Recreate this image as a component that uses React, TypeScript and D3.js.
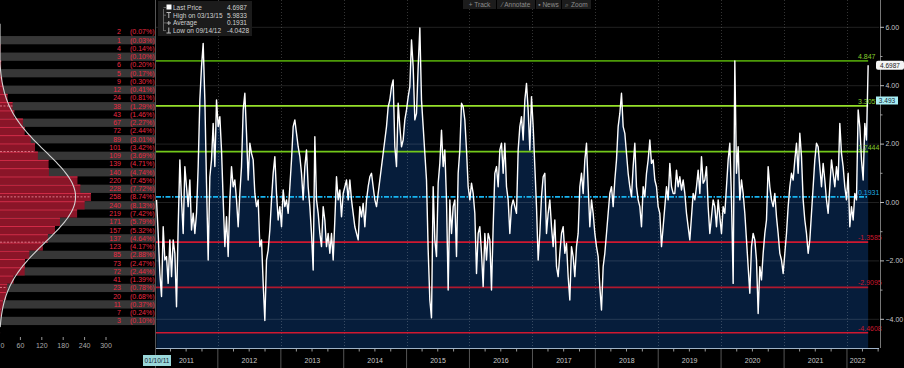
import { useEffect, useRef } from 'react';
import * as d3 from 'd3';

// distribution panel (left): observations per bucket, top bucket first
const histCounts = [
  2, 1, 4, 3, 6, 5, 9, 12, 24, 38, 43, 67, 72, 89, 101, 109, 139, 140,
  220, 228, 258, 240, 219, 171, 157, 137, 123, 85, 73, 72, 41, 23, 20, 11, 7, 3
];
const histTicks = [0, 60, 120, 180, 240, 300];

// mean and +/- 1,2,3 sigma bands
const statLevels = [4.847, 3.3057, 1.7444, 0.1931, -1.3585, -2.9095, -4.4608];
const statLabels = ['4.847', '3.3057', '1.7444', '0.1931', '-1.3585', '-2.9095', '-4.4608'];
const statColors = ['#4c9a08', '#96e02a', '#72c81a', '#18b4f0', '#d01830', '#b0182e', '#d01830'];
const statTextColors = ['#86cc2c', '#86cc2c', '#86cc2c', '#1fa8e0', '#c8182e', '#c8182e', '#c8182e'];

const yTicks = [6, 4, 2, 0, -2, -4];
const yMinorTicks = [5, 3, 1, -1, -3];
const years = [2011, 2012, 2013, 2014, 2015, 2016, 2017, 2018, 2019, 2020, 2021, 2022];

const legendLabels = ['Last Price', 'High on 03/13/15', 'Average', 'Low on 09/14/12'];
const legendValues = ['4.6987', '5.9833', '0.1931', '-4.0428'];
const toolbarItems = ['+ Track', '\u2044 Annotate', '\u25aa News', '\u2315 Zoom'];

const lastPrice = 4.6987;
const markerValue = 3.493;
const startLabel = '01/10/11';

// observations, evenly spaced from first to last date
const seriesStart = '2011-01-10';
const seriesEnd = '2022-05-04';
const values2011to2013 = [
  0.09, -1.06, -2.43, -3.22, -0.83, -1.97, -1.85, -2.77, -1.28, -2.54,
  -1.28, -1.74, -3.57, -0.83, 1.46, 0.09, -1.06, 1.23, 0.54, -0.14,
  0.77, -0.94, -0.37, -1.06, -0.37, 1.23, 3.51, 4.65, 5.45, 3.51,
  0.66, -1.97, 0.88, 1.46, 2.71, 1.23, 3.51, 2.60, 2.94, 1.80,
  0.09, -1.51, -0.49, -1.85, 0.09, 1.23, 0.54, 0.77, 0.09, -0.83,
  0.31, 1.23, 3.17, 3.74, 2.37, 0.77, 2.03, 1.68, 1.46, 0.31,
  -0.14, 0.09, -1.51, -1.28, -2.77, -4.04, -1.97, -1.63, -0.94, 0.09,
  1.00, 1.57, 0.31, -0.60, -0.14, -0.83, 0.43, -0.14, 0.09, -0.37,
  0.54, 1.46, 2.60, 2.83, 2.37, 1.91, 1.57, 1.00, 0.09, 1.23,
  1.80, 0.54, -0.14, -1.06, -2.31, 2.25, 0.09, -0.37, -1.06, -1.51,
  -0.14, -0.60, -1.51, -1.06, -1.74, -1.06, -1.97, -0.60
];
const values2013to2016 = [
  0.88, 0.09, 0.43, -0.49, 0.31, 0.54, 0.77, 0.09, 0.77, 0.09,
  -0.37, -0.83, -1.06, -1.28, -0.14, -0.49, -0.03, -0.83, 0.09, 0.54,
  0.88, 1.00, 0.54, 0.09, -0.14, 0.31, 0.77, 1.23, 1.68, 2.14,
  2.60, 3.28, 3.51, 3.97, 4.20, 1.91, 1.23, 3.40, 2.60, 1.91,
  2.14, 2.83, 3.17, 3.62, 3.97, 5.57, 4.65, 2.83, 3.05, 4.65,
  5.98, 3.51, 2.60, 1.68, 0.77, -1.63, -3.34, -3.95, 0.54, -1.28,
  -1.85, 0.66, 1.34, 2.48, 1.23, 1.80, 0.09, -3.00, 0.09, -1.06,
  -0.14, 0.09, -1.85, 1.00, 1.80, 3.40, 3.28, 2.83, 1.80, 0.54,
  0.09, 0.66, 0.31, -0.37, -2.43, -1.06, -0.83, -1.74, -2.88, -1.06,
  -1.97, -1.06, -1.28, -3.00, -0.83, 1.00, 1.23, 0.54, 1.80, 2.03,
  1.00, 2.03, 0.54, 0.09, -1.06, -0.14, 0.09, -0.14
];
const values2016to2019 = [
  -0.37, 1.80, 2.60, 2.94, 2.14, 3.51, 4.08, 3.17, 1.80, 3.62,
  2.60, 1.23, -0.14, -1.97, -1.06, 0.20, 0.88, 1.00, -1.06, -0.37,
  0.09, -0.83, -1.51, -0.60, -2.20, -2.54, -1.74, -1.06, -0.83, -1.74,
  -1.40, -2.54, -3.34, -1.51, -1.85, -2.54, -1.51, -1.06, 0.54, 1.00,
  0.31, 1.46, 2.03, 0.54, -0.83, 0.09, -0.37, -1.06, -1.51, -1.85,
  -2.88, -3.68, -2.20, -1.74, -1.06, -0.37, 0.31, 0.54, -0.14, 0.77,
  1.46, 2.60, 3.05, 3.74, 2.60, 2.37, 1.68, 1.00, 0.54, 0.20,
  1.23, 2.03, 0.54, 0.09, -0.14, -0.83, 0.54, 0.20, 1.00, 1.46,
  2.14, 1.34, 1.46, 0.77, 0.54, -0.14, -0.37, -1.51, -0.83, -0.14,
  0.54, 0.09, 1.34, 0.54, 0.31, 0.31, 1.11, 0.54, 0.88, 0.43,
  0.77, 0.31, -0.37, -0.83, -1.28, -0.49, 0.31, 0.09
];
const values2019to2022 = [
  0.54, 1.11, 0.31, 1.57, 0.66, 0.77, 1.23, -0.14, -1.06, -0.49,
  0.09, -0.14, -0.83, 0.09, -0.49, -1.06, -0.14, -0.37, 0.54, 1.46,
  2.03, 0.09, -2.77, 4.85, 1.00, 1.91, 0.09, 0.77, 0.31, -0.37,
  -1.28, -2.20, -3.11, -1.51, -1.06, -1.28, -1.97, -3.80, -2.20, -2.65,
  -1.74, -1.06, -0.60, 1.23, 0.54, 0.09, -0.14, 0.31, -0.49, -1.06,
  -1.74, -1.97, -2.43, -1.74, -1.06, -0.14, 0.54, 1.00, 0.77, 1.46,
  2.03, 1.00, 2.37, 1.57, 0.09, -0.60, -1.06, -1.74, -1.28, -0.37,
  0.54, 1.46, 2.03, 1.91, 1.23, 0.54, 1.34, 0.77, 0.09, -0.37,
  0.54, 1.46, 1.00, 0.54, 1.23, 0.77, 2.71, 1.68, 1.23, 0.54,
  0.09, 1.00, -0.83, -0.14, -0.60, 0.31, 0.09, 3.17, 2.60, 1.46,
  0.77, 2.71, 2.14, 4.70
];

const FONT = '"Liberation Sans Narrow", "Liberation Sans", Arial, sans-serif';

export default function App() {
  const svgRef = useRef<SVGSVGElement>(null);

  useEffect(() => {
    document.body.style.margin = '0';
    document.body.style.background = '#000';

    const width = 904;
    const height = 368;
    const plotLeft = 156;
    const plotRight = 879;
    const plotBottom = 348;

    const svg = d3.select(svgRef.current);
    svg.selectAll('*').remove();
    svg.attr('width', width).attr('height', height).style('display', 'block')
      .style('font-family', FONT);

    svg.append('rect').attr('width', width).attr('height', height).attr('fill', '#000');

    const yScale = d3.scaleLinear().domain([-4.983, 6.935]).range([plotBottom, 0]);
    const xScale = d3.scaleTime()
      .domain([new Date(2011, 0, 7), new Date(2022, 6, 6)])
      .range([plotLeft, plotRight]);

    const values = [...values2011to2013, ...values2013to2016, ...values2016to2019, ...values2019to2022];
    const t0 = new Date(seriesStart + 'T00:00:00').getTime();
    const t1 = new Date(seriesEnd + 'T00:00:00').getTime();
    const series = values.map((v, i) => ({
      date: new Date(t0 + (i * (t1 - t0)) / (values.length - 1)),
      value: v
    }));
    const lastX = xScale(series[series.length - 1].date);

    // ---------- histogram panel ----------
    const histTop = 5.9833;
    const binW = 0.2828;
    const xHist = d3.scaleLinear().domain([0, 300]).range([-1, 106]);
    const rowTop = (i: number) => yScale(histTop - i * binW);
    const total = d3.sum(histCounts);

    const hist = svg.append('g');
    histCounts.forEach((c, i) => {
      const y0 = rowTop(i);
      const y1 = rowTop(i + 1);
      if (i % 2 === 1) {
        hist.append('rect').attr('x', 0).attr('y', y0).attr('width', 155).attr('height', y1 - y0)
          .attr('fill', '#373737');
      }
      hist.append('rect').attr('x', 0).attr('y', y0).attr('width', Math.max(0, xHist(c)))
        .attr('height', y1 - y0).attr('fill', '#8a1528');
      hist.append('line').attr('x1', 0).attr('x2', Math.max(0, xHist(c)))
        .attr('y1', y0 + 0.5).attr('y2', y0 + 0.5)
        .attr('stroke', '#d42c48').attr('stroke-width', 1);
      const cy = (y0 + y1) / 2 + 2.4;
      hist.append('text').attr('x', 121).attr('y', cy).attr('text-anchor', 'end')
        .attr('font-size', 7).attr('fill', '#ea2a42').text(c);
      hist.append('text').attr('x', 130).attr('y', cy)
        .attr('font-size', 7).attr('fill', '#ea2a42')
        .text(`(${((c / total) * 100).toFixed(2)}%)`);
    });

    // dashed sigma marks inside bars
    statLevels.forEach((lv) => {
      const i = Math.floor((histTop - lv) / binW);
      const c = histCounts[Math.max(0, Math.min(histCounts.length - 1, i))];
      hist.append('line').attr('x1', 0).attr('x2', Math.max(0, xHist(c)))
        .attr('y1', yScale(lv)).attr('y2', yScale(lv))
        .attr('stroke', '#e58090').attr('stroke-width', 0.9).attr('stroke-dasharray', '2,1.5');
    });

    // fitted normal curve
    const mean = d3.sum(histCounts, (c, i) => c * i) / total;
    const sd = Math.sqrt(d3.sum(histCounts, (c, i) => c * (i - mean) ** 2) / total);
    const curvePts = d3.range(-0.5, histCounts.length + 0.5, 0.25).map((t) => {
      const cnt = (total / (sd * Math.sqrt(2 * Math.PI))) * Math.exp(-((t - 0.5 - mean) ** 2) / (2 * sd * sd));
      return [Math.max(0, xHist(cnt)), yScale(histTop - t * binW)] as [number, number];
    });
    hist.append('path').attr('d', d3.line().curve(d3.curveBasis)(curvePts))
      .attr('fill', 'none').attr('stroke', '#d4d4d4').attr('stroke-width', 1.1);

    histTicks.forEach((t) => {
      hist.append('line').attr('x1', xHist(t)).attr('x2', xHist(t)).attr('y1', 337).attr('y2', 340)
        .attr('stroke', '#999').attr('stroke-width', 1);
      hist.append('text').attr('x', Math.max(2.5, xHist(t))).attr('y', 348).attr('text-anchor', 'middle')
        .attr('font-size', 7).attr('fill', '#aaa').text(t);
    });

    svg.append('line').attr('x1', 155.5).attr('x2', 155.5).attr('y1', 0).attr('y2', height)
      .attr('stroke', '#555').attr('stroke-width', 1);

    // ---------- main plot ----------
    const plot = svg.append('g');

    const area = d3.area<{ date: Date; value: number }>()
      .x((d) => xScale(d.date)).y0(plotBottom).y1((d) => yScale(d.value));
    plot.append('path').attr('d', area(series)).attr('fill', '#061d3b');

    yTicks.forEach((t) => {
      plot.append('line').attr('x1', plotLeft).attr('x2', plotRight)
        .attr('y1', yScale(t)).attr('y2', yScale(t))
        .attr('stroke', '#fff').attr('stroke-opacity', 0.13).attr('stroke-width', 1);
    });
    years.slice(1).forEach((yr) => {
      const x = Math.round(xScale(new Date(yr, 0, 1))) + 0.5;
      plot.append('line').attr('x1', x).attr('x2', x).attr('y1', 0).attr('y2', plotBottom)
        .attr('stroke', '#fff').attr('stroke-opacity', 0.2).attr('stroke-dasharray', '1,2');
    });

    statLevels.forEach((lv, i) => {
      const y = yScale(lv);
      plot.append('line').attr('x1', plotLeft).attr('x2', lastX).attr('y1', y).attr('y2', y)
        .attr('stroke', statColors[i]).attr('stroke-width', 1.7)
        .attr('stroke-dasharray', i === 3 ? '5,1.5,1.5,1.5' : null);
    });

    const line = d3.line<{ date: Date; value: number }>()
      .x((d) => xScale(d.date)).y((d) => yScale(d.value));
    plot.append('path').attr('d', line(series)).attr('fill', 'none')
      .attr('stroke', '#fff').attr('stroke-width', 1.4).attr('stroke-linejoin', 'round');

    statLevels.forEach((lv, i) => {
      plot.append('text').attr('x', 858).attr('y', yScale(lv) - 2)
        .attr('font-size', 7).attr('fill', statTextColors[i])
        .text(statLabels[i]);
    });

    // right axis
    plot.append('line').attr('x1', 880.5).attr('x2', 880.5).attr('y1', 0).attr('y2', plotBottom)
      .attr('stroke', '#777');
    yTicks.forEach((t) => {
      plot.append('line').attr('x1', 880).attr('x2', 884).attr('y1', yScale(t)).attr('y2', yScale(t))
        .attr('stroke', '#bbb');
      plot.append('text').attr('x', 885.5).attr('y', yScale(t) + 2.4).attr('font-size', 7)
        .attr('fill', '#c8c8c8').text(d3.format('.2f')(t));
    });
    yMinorTicks.forEach((t) => {
      plot.append('line').attr('x1', 880).attr('x2', 882.5).attr('y1', yScale(t)).attr('y2', yScale(t))
        .attr('stroke', '#999');
    });

    // value tags
    const yLast = yScale(lastPrice);
    plot.append('rect').attr('x', 876).attr('y', yLast - 4.5).attr('width', 28).attr('height', 9)
      .attr('rx', 2).attr('fill', '#f4f4f4');
    plot.append('text').attr('x', 890).attr('y', yLast + 2.4).attr('text-anchor', 'middle')
      .attr('font-size', 6.5).attr('fill', '#222').text(lastPrice.toFixed(4));
    const yMark = yScale(markerValue);
    plot.append('rect').attr('x', 876).attr('y', yMark - 4).attr('width', 22).attr('height', 8)
      .attr('fill', '#a8eef4');
    plot.append('text').attr('x', 887).attr('y', yMark + 2.3).attr('text-anchor', 'middle')
      .attr('font-size', 6.5).attr('fill', '#123').text(markerValue.toFixed(3));

    // x axis
    plot.append('line').attr('x1', plotLeft).attr('x2', plotRight).attr('y1', plotBottom + 0.5)
      .attr('y2', plotBottom + 0.5).attr('stroke', '#9fb2c6').attr('stroke-width', 1);
    d3.timeMonth.every(3)!.range(xScale.domain()[0], xScale.domain()[1]).forEach((d) => {
      const x = xScale(d);
      const major = d.getMonth() === 0;
      plot.append('line').attr('x1', x).attr('x2', x).attr('y1', plotBottom + 1)
        .attr('y2', major ? height : plotBottom + 3.5)
        .attr('stroke', major ? '#555' : '#999').attr('stroke-width', 1);
    });
    years.forEach((yr) => {
      const a = xScale(new Date(yr, 0, 1));
      const b = Math.min(xScale(new Date(yr + 1, 0, 1)), lastX);
      plot.append('text').attr('x', (Math.max(a, plotLeft - 1) + b) / 2).attr('y', 363)
        .attr('text-anchor', 'middle').attr('font-size', 7).attr('fill', '#c8c8c8').text(yr);
    });
    svg.append('rect').attr('x', 143).attr('y', 355).attr('width', 28).attr('height', 11)
      .attr('fill', '#9ad8da');
    svg.append('text').attr('x', 157).attr('y', 363).attr('text-anchor', 'middle')
      .attr('font-size', 6.5).attr('fill', '#123').text(startLabel);

    // legend box
    const lg = svg.append('g');
    lg.append('rect').attr('x', 158).attr('y', 1).attr('width', 94).attr('height', 35)
      .attr('fill', '#1b1b1b');
    lg.append('line').attr('x1', 163.5).attr('x2', 163.5).attr('y1', 9).attr('y2', 31)
      .attr('stroke', '#777').attr('stroke-width', 0.8);
    legendLabels.forEach((lab, i) => {
      const by = 10 + i * 7.7;
      lg.append('line').attr('x1', 163.5).attr('x2', 166).attr('y1', by - 2.5).attr('y2', by - 2.5)
        .attr('stroke', '#777').attr('stroke-width', 0.8);
      lg.append('text').attr('x', 173).attr('y', by).attr('font-size', 6.5).attr('fill', '#d0d0d0').text(lab);
      lg.append('text').attr('x', 227).attr('y', by).attr('font-size', 6.5).attr('fill', '#d0d0d0')
        .text(legendValues[i]);
    });
    lg.append('rect').attr('x', 166.5).attr('y', 4.5).attr('width', 5).attr('height', 5).attr('fill', '#fff');
    lg.append('path').attr('d', 'M166.5,12.5H171M168.8,12.5V18').attr('stroke', '#bbb').attr('fill', 'none');
    lg.append('path').attr('d', 'M166.5,23H171M168.8,21V25').attr('stroke', '#bbb').attr('fill', 'none');
    lg.append('path').attr('d', 'M166.5,33H171M168.8,27.5V33').attr('stroke', '#bbb').attr('fill', 'none');

    // toolbar
    const tbX = [463, 497, 536, 562];
    const tbW = [33, 38, 25, 29];
    toolbarItems.forEach((lab, i) => {
      svg.append('rect').attr('x', tbX[i]).attr('y', 0).attr('width', tbW[i]).attr('height', 9)
        .attr('fill', '#1c1c1c');
      svg.append('text').attr('x', tbX[i] + tbW[i] / 2).attr('y', 6.8).attr('text-anchor', 'middle')
        .attr('font-size', 6.5).attr('fill', '#8c8c8c').text(lab);
    });
  }, []);

  return <svg ref={svgRef}></svg>;
}
